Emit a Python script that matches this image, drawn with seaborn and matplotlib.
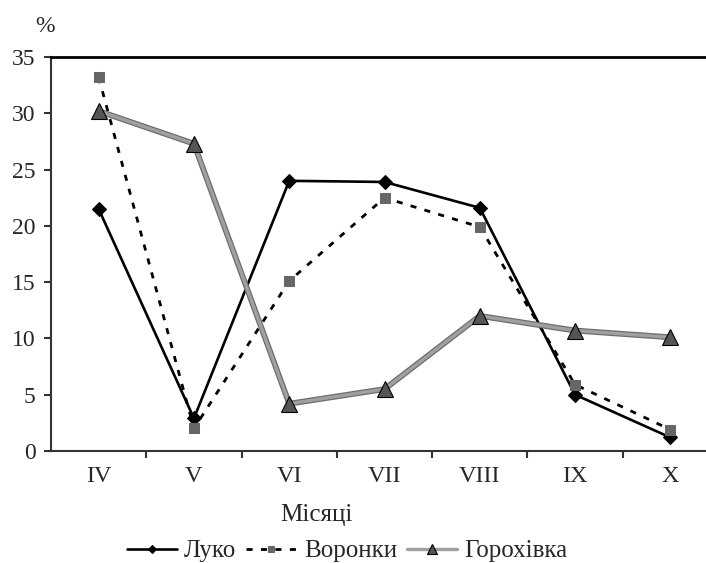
import matplotlib
matplotlib.use("Agg")
import matplotlib.pyplot as plt
import seaborn as sns
import pandas as pd
import numpy as np
from matplotlib.ticker import FixedLocator

months = ["IV", "V", "VI", "VII", "VIII", "IX", "X"]
luko = [21.5, 2.9, 24.0, 23.9, 21.6, 5.0, 1.2]
voronky = [33.2, 2.0, 15.1, 22.5, 19.9, 5.9, 1.9]
horokhivka = [30.2, 27.3, 4.2, 5.5, 12.0, 10.7, 10.1]
yticks = [0, 5, 10, 15, 20, 25, 30, 35]

sns.set_theme(style="white")
plt.rcParams["font.family"] = ["Liberation Serif", "DejaVu Serif"]

df = pd.DataFrame({"month": months, "Луко": luko, "Воронки": voronky, "Горохівка": horokhivka})

fig = plt.figure(figsize=(7.06, 5.63), dpi=100)
ax = fig.add_axes([51/706, 112/563, 667/706, 394/563])

sns.lineplot(data=df, x="month", y="Луко", ax=ax, color="black", lw=1.9,
             marker="D", markersize=7, markeredgecolor="black", label="Луко", sort=False)
sns.lineplot(data=df, x="month", y="Воронки", ax=ax, color="black", lw=2.0,
             dashes=False, marker="s", markersize=7.5, markerfacecolor="#666666",
             markeredgecolor="#666666", label="Воронки", sort=False)
ax.lines[-1].set_linestyle((0, (2.2, 3)))
# textured grey line: darker wide underlay + lighter core with markers
sns.lineplot(data=df, x="month", y="Горохівка", ax=ax, color="#6e6e6e", lw=4.2,
             sort=False, legend=False)
sns.lineplot(data=df, x="month", y="Горохівка", ax=ax, color="#a0a0a0", lw=2.4,
             marker="^", markersize=12, markerfacecolor="#555555",
             markeredgecolor="black", markeredgewidth=0.8, label="Горохівка", sort=False)

ax.set_xlim(-0.5, 6.5)
ax.set_ylim(0, 35)
ax.set_yticks(yticks)
ax.set_xticks(range(len(months)))
ax.set_xticklabels(months)
ax.xaxis.set_minor_locator(FixedLocator(np.arange(0.5, 6.6, 1.0)))
ax.tick_params(axis="x", which="major", length=0, labelsize=17.5, pad=11)
ax.tick_params(axis="x", which="minor", length=5, width=1.5, color="#333333", direction="out", bottom=True)
ax.tick_params(axis="y", length=5, width=1.5, color="#333333", direction="out", left=True, labelsize=17, pad=6)
ax.set_xlabel("")
ax.set_ylabel("")
for s in ["left", "bottom"]:
    ax.spines[s].set_color("#333333")
    ax.spines[s].set_linewidth(1.5)
ax.spines["top"].set_color("black")
ax.spines["top"].set_linewidth(2)
ax.spines["right"].set_visible(False)

ax.legend_.remove()
handles, labels = ax.get_legend_handles_labels()
fig.legend(handles, labels, loc="center", bbox_to_anchor=(347/706, 1 - 551/563), ncol=3,
           frameon=False, fontsize=18, handlelength=2.0, handletextpad=0.3, columnspacing=0.4,
           markerscale=0.6)

fig.text(316/706, 1 - 515/563, "Місяці", ha="center", va="center", fontsize=18)
fig.text(45/706, 1 - 26/563, "%", ha="center", va="center", fontsize=17)

fig.savefig("out.png", dpi=100)
